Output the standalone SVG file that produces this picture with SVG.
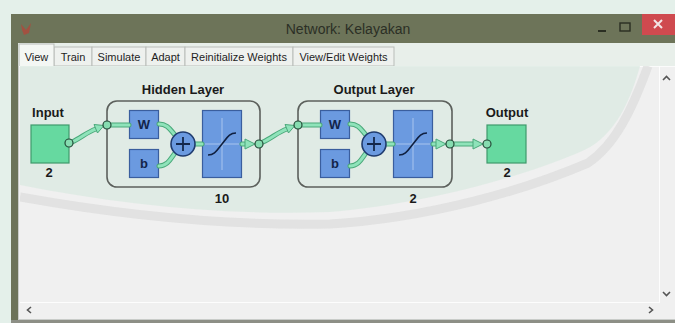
<svg xmlns="http://www.w3.org/2000/svg" width="675" height="323" viewBox="0 0 675 323">
  <style>
    .ui { font-family: "Liberation Sans", Arial, sans-serif; font-size: 11px; fill: #1e1e1e; }
    .title { font-family: "Liberation Sans", Arial, sans-serif; font-size: 14px; fill: #2b2f25; }
    .lbl { font-family: "Liberation Sans", Arial, sans-serif; font-size: 13px; font-weight: bold; fill: #1a1a1a; }
    .box { font-family: "Liberation Sans", Arial, sans-serif; font-size: 13px; font-weight: bold; fill: #13254a; }
    .tab { fill: #eef1ee; stroke: #b9bdb9; stroke-width: 1; }
    .io { fill: #66d9a0; stroke: #3f9a6c; stroke-width: 1.2; }
    .blue { fill: #6b9ae0; stroke: #3a5e9e; stroke-width: 1.2; }
    .layer { fill: none; stroke: #5c605c; stroke-width: 1.6; }
    .wire-o { fill: none; stroke: #4aa87a; stroke-width: 5; stroke-linecap: round; }
    .wire-i { fill: none; stroke: #8fe3ba; stroke-width: 3; stroke-linecap: round; }
    .head { fill: #8fe3ba; stroke: #4aa87a; stroke-width: 1; stroke-linejoin: round; }
    .dot { fill: #86dcb0; stroke: #244a38; stroke-width: 1.2; }
    .cross { stroke: #a9c4ee; stroke-width: 1; }
    .sig { fill: none; stroke: #102040; stroke-width: 1.6; }
    .sum { fill: #6b9ae0; stroke: #1f3b6e; stroke-width: 1.6; }
    .plus { stroke: #14284c; stroke-width: 1.8; }
    .arrowglyph { fill: none; stroke: #555; stroke-width: 1.6; }
  </style>
  <defs>
    <clipPath id="panelClip">
      <rect x="20" y="66" width="639" height="236"/>
    </clipPath>
  </defs>

  <!-- desktop behind the window -->
  <rect x="0" y="0" width="675" height="323" fill="#e4f0ea"/>

  <!-- window frame and title bar -->
  <rect x="11" y="14" width="664" height="309" fill="#6c7359"/>
  <rect x="11" y="14" width="664" height="29" fill="#6d7459"/>
  <g id="app-icon" fill="#b4453a" opacity="0.75">
    <path d="M21,24 L26,30 L31,23 L29,33 L24,35 L22,30 Z"/>
  </g>
  <text class="title" x="348" y="34" text-anchor="middle">Network: Kelayakan</text>
  <!-- window buttons -->
  <line x1="598" y1="31" x2="606" y2="31" stroke="#2a2e22" stroke-width="2"/>
  <rect x="620" y="23" width="10" height="8" fill="none" stroke="#2a2e22" stroke-width="1.4"/>
  <rect x="642" y="14" width="33" height="21" fill="#cf4a4f"/>
  <path d="M654,20 L662,28 M662,20 L654,28" stroke="#f3e6e6" stroke-width="2"/>

  <!-- tab strip -->
  <rect x="18" y="43" width="657" height="280" fill="#e8efea"/>
  <g id="tabs">
    <rect class="tab" x="54" y="47" width="38" height="19"/>
    <rect class="tab" x="92" y="47" width="54" height="19"/>
    <rect class="tab" x="146" y="47" width="39" height="19"/>
    <rect class="tab" x="185" y="47" width="108" height="19"/>
    <rect class="tab" x="293" y="47" width="101" height="19"/>
    <rect x="19" y="44" width="35" height="23" fill="#f4f7f4" stroke="#b9bdb9"/>
    <text class="ui" x="36.5" y="61" text-anchor="middle" font-size="11.5">View</text>
    <text class="ui" x="73" y="61" text-anchor="middle">Train</text>
    <text class="ui" x="119" y="61" text-anchor="middle">Simulate</text>
    <text class="ui" x="165.5" y="61" text-anchor="middle">Adapt</text>
    <text class="ui" x="239" y="61" text-anchor="middle">Reinitialize Weights</text>
    <text class="ui" x="343.5" y="61" text-anchor="middle">View/Edit Weights</text>
  </g>

  <!-- content panel -->
  <rect x="18" y="66" width="657" height="257" fill="#c9ccc9"/>
  <rect x="19" y="66" width="656" height="253" fill="#f0f0f0"/>
  <line x1="19" y1="66.5" x2="675" y2="66.5" stroke="#fbfbfb" stroke-width="1"/>
  <line x1="11" y1="321.5" x2="675" y2="321.5" stroke="#8d8f86" stroke-width="3"/>

  <!-- faint stamp tint over the canvas -->
  <g clip-path="url(#panelClip)">
    <path d="M20,66 L640,66 C628,110 610,140 580,152 C520,178 420,205 330,212 C230,216 120,205 20,185 Z" fill="#dbe9e1" opacity="0.75"/>
    <path d="M20,197 C120,215 230,226 330,224 C430,218 525,190 588,163 C615,145 632,110 648,66" fill="none" stroke="#dcdcdc" stroke-width="9" opacity="0.7"/>
  </g>

  <!-- scroll bars -->
  <line x1="20" y1="302.5" x2="659" y2="302.5" stroke="#fdfdfd" stroke-width="1"/>
  <line x1="659.5" y1="66" x2="659.5" y2="303" stroke="#fdfdfd" stroke-width="1"/>
  <path class="arrowglyph" d="M31,307 L27.5,310 L31,313"/>
  <path class="arrowglyph" d="M649,307 L652.5,310 L649,313"/>
  <path class="arrowglyph" d="M663,80 L666.5,76.5 L670,80"/>
  <path class="arrowglyph" d="M663,292 L666.5,295.5 L670,292"/>

  <!-- network input -->
  <g id="input">
    <text class="lbl" x="48" y="117" text-anchor="middle">Input</text>
    <rect class="io" x="31" y="125" width="38" height="38"/>
    <text class="lbl" x="49" y="177" text-anchor="middle">2</text>
  </g>

  <!-- hidden layer -->
  <g id="hidden-layer">
    <text class="lbl" x="183" y="94" text-anchor="middle">Hidden Layer</text>
    <rect class="layer" x="107" y="101" width="153" height="86" rx="10"/>
    <rect class="blue" x="129.5" y="110.5" width="29" height="28"/>
    <text class="box" x="144" y="129" text-anchor="middle">W</text>
    <rect class="blue" x="129.5" y="149.5" width="29" height="28"/>
    <text class="box" x="144" y="168" text-anchor="middle">b</text>
    <rect class="blue" x="202.5" y="110.5" width="39" height="67"/>
    <line class="cross" x1="205" y1="144" x2="239" y2="144"/>
    <line class="cross" x1="222" y1="118" x2="222" y2="170"/>
    <path class="sig" d="M208,155 C215,155 217,150 222,144 C227,138 229,133 236,133"/>
    <text class="lbl" x="222" y="203" text-anchor="middle">10</text>
  </g>

  <!-- output layer -->
  <g id="output-layer">
    <text class="lbl" x="374" y="94" text-anchor="middle">Output Layer</text>
    <rect class="layer" x="298" y="101" width="154" height="86" rx="10"/>
    <rect class="blue" x="320.5" y="110.5" width="29" height="28"/>
    <text class="box" x="335" y="129" text-anchor="middle">W</text>
    <rect class="blue" x="320.5" y="149.5" width="29" height="28"/>
    <text class="box" x="335" y="168" text-anchor="middle">b</text>
    <rect class="blue" x="393.5" y="110.5" width="39" height="67"/>
    <line class="cross" x1="396" y1="144" x2="430" y2="144"/>
    <line class="cross" x1="413" y1="118" x2="413" y2="170"/>
    <path class="sig" d="M399,155 C406,155 408,150 413,144 C418,138 420,133 427,133"/>
    <text class="lbl" x="413" y="203" text-anchor="middle">2</text>
  </g>

  <!-- network output -->
  <g id="output">
    <text class="lbl" x="507" y="117" text-anchor="middle">Output</text>
    <rect class="io" x="487" y="125" width="39" height="38"/>
    <text class="lbl" x="507" y="177" text-anchor="middle">2</text>
  </g>

  <!-- connectors -->
  <g id="connectors">
    <!-- input to hidden layer -->
    <path class="wire-o" d="M72,142 C81,138 87,132 96,129"/>
    <path class="wire-i" d="M72,142 C81,138 87,132 96,129"/>
    <polygon class="head" points="94,124.5 104,125.5 97.5,133"/>
    <!-- inside hidden layer -->
    <path class="wire-o" d="M111,125 L129,125"/>
    <path class="wire-i" d="M111,125 L129,125"/>
    <path class="wire-o" d="M159,124 C168,124 171,131 175,135"/>
    <path class="wire-i" d="M159,124 C168,124 171,131 175,135"/>
    <path class="wire-o" d="M159,166 C168,166 171,158 175,153"/>
    <path class="wire-i" d="M159,166 C168,166 171,158 175,153"/>
    <path class="wire-o" d="M195,144 L202,144"/>
    <path class="wire-i" d="M195,144 L202,144"/>
    <path class="wire-o" d="M242,144 L246,144"/>
    <path class="wire-i" d="M242,144 L246,144"/>
    <polygon class="head" points="245,139 255,144 245,149"/>
    <!-- hidden layer to output layer -->
    <path class="wire-o" d="M263,142 C272,138 278,132 287,129"/>
    <path class="wire-i" d="M263,142 C272,138 278,132 287,129"/>
    <polygon class="head" points="285,124.5 295,125.5 288.5,133"/>
    <!-- inside output layer -->
    <path class="wire-o" d="M302,125 L320,125"/>
    <path class="wire-i" d="M302,125 L320,125"/>
    <path class="wire-o" d="M350,124 C359,124 362,131 366,135"/>
    <path class="wire-i" d="M350,124 C359,124 362,131 366,135"/>
    <path class="wire-o" d="M350,166 C359,166 362,158 366,153"/>
    <path class="wire-i" d="M350,166 C359,166 362,158 366,153"/>
    <path class="wire-o" d="M386,144 L393,144"/>
    <path class="wire-i" d="M386,144 L393,144"/>
    <path class="wire-o" d="M433,144 L437,144"/>
    <path class="wire-i" d="M433,144 L437,144"/>
    <polygon class="head" points="436,139 446,144 436,149"/>
    <!-- output layer to output -->
    <path class="wire-o" d="M454,144 L474,144"/>
    <path class="wire-i" d="M454,144 L474,144"/>
    <polygon class="head" points="473,139 483,144 473,149"/>
    <!-- summing junctions -->
    <circle class="sum" cx="183" cy="144" r="12"/>
    <path class="plus" d="M176,144 L190,144 M183,137 L183,151"/>
    <circle class="sum" cx="374" cy="144" r="12"/>
    <path class="plus" d="M367,144 L381,144 M374,137 L374,151"/>
    <!-- ports -->
    <circle class="dot" cx="69" cy="143" r="4"/>
    <circle class="dot" cx="107" cy="125" r="4"/>
    <circle class="dot" cx="259" cy="144" r="4"/>
    <circle class="dot" cx="298" cy="125" r="4"/>
    <circle class="dot" cx="450" cy="144" r="4"/>
    <circle class="dot" cx="487" cy="144" r="4"/>
  </g>
</svg>
